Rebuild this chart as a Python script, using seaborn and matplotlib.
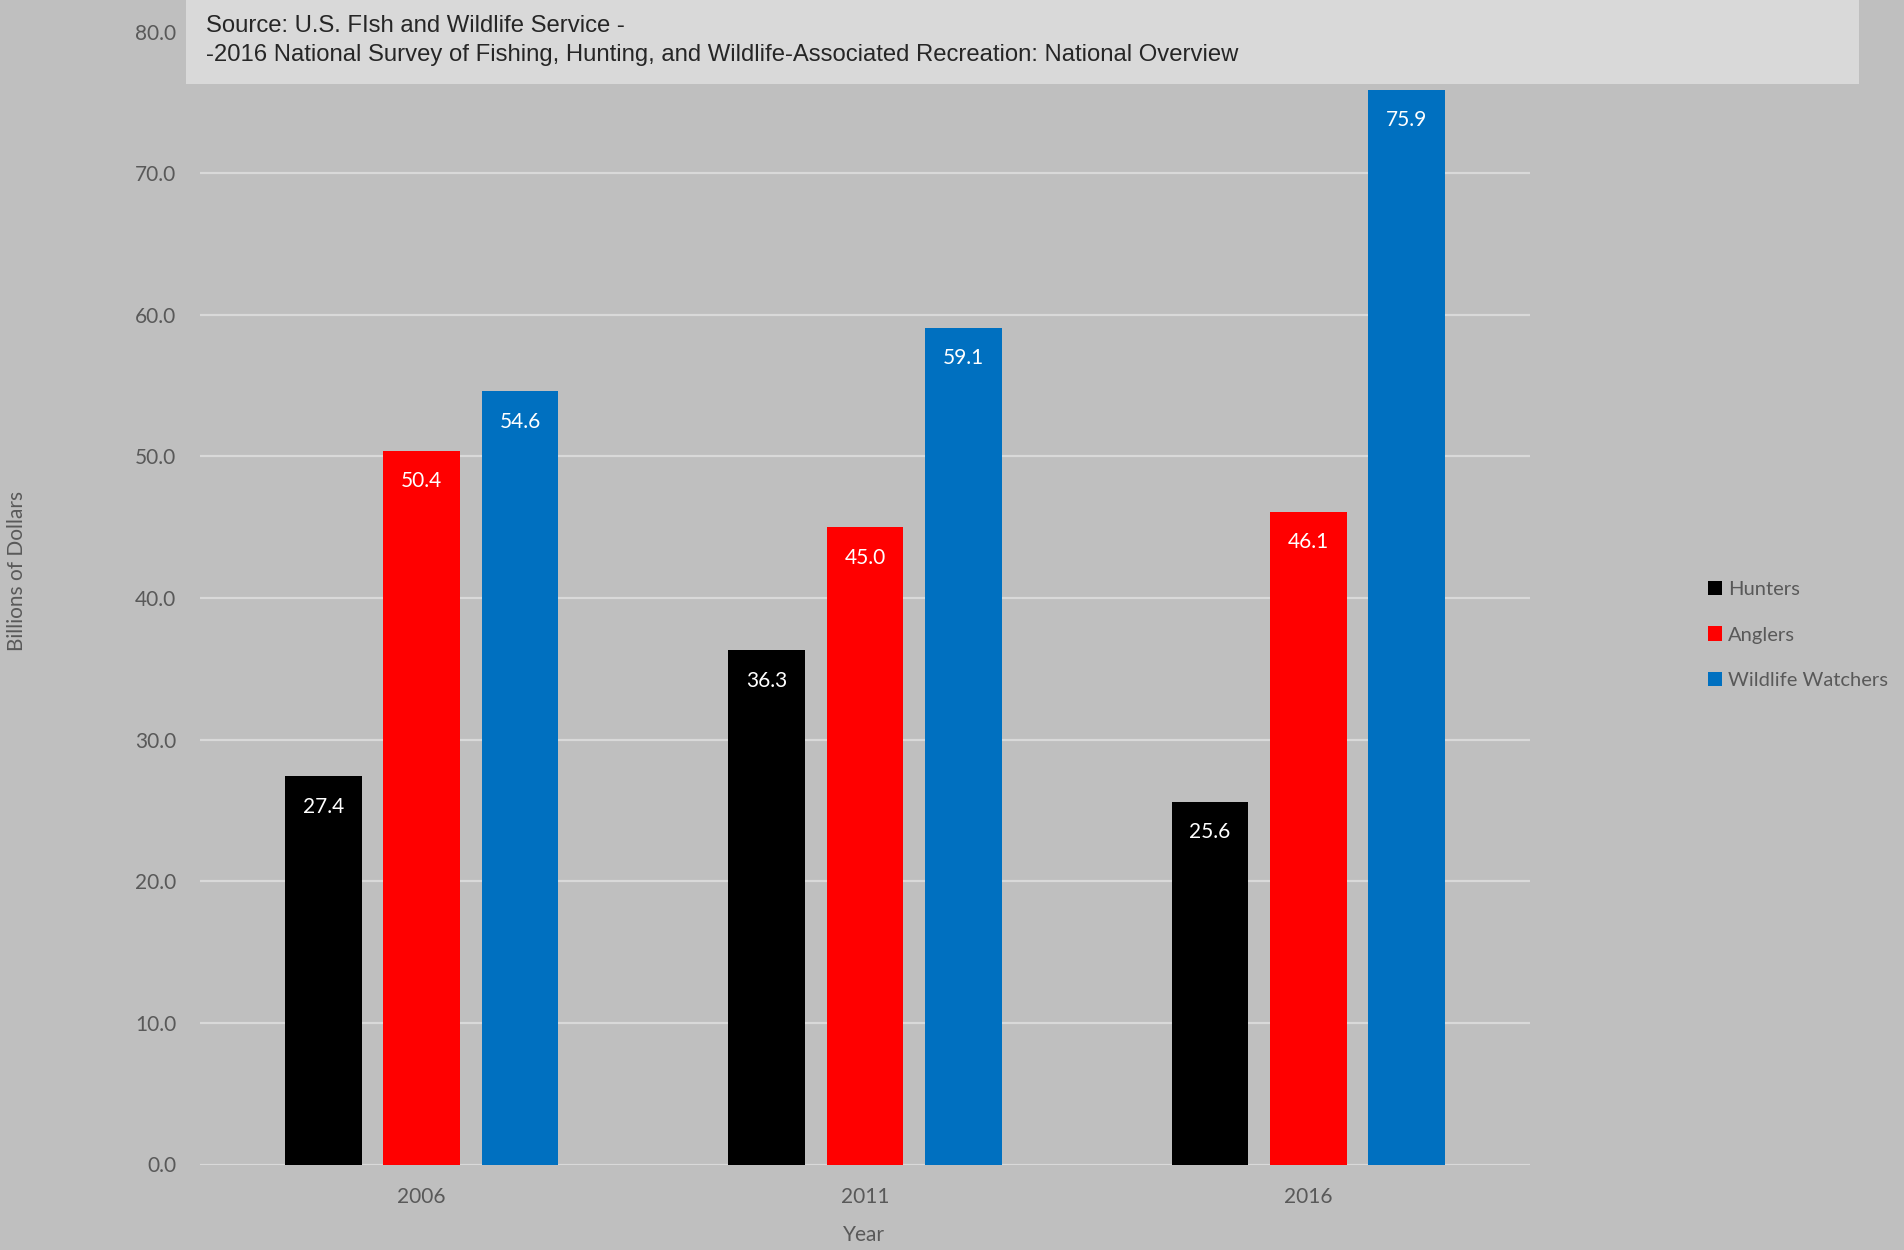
import matplotlib
matplotlib.use("Agg")
import matplotlib.pyplot as plt
from matplotlib.patches import Rectangle
import seaborn as sns
import pandas as pd

years = ["2006", "2011", "2016"]
groups = ["Hunters", "Anglers", "Wildlife Watchers"]
hunters = [27.4, 36.3, 25.6]
anglers = [50.4, 45.0, 46.1]
watchers = [54.6, 59.1, 75.9]
colors = ["#000000", "#FF0000", "#0070C0"]

rows = []
for g, vals in zip(groups, [hunters, anglers, watchers]):
    for y, v in zip(years, vals):
        rows.append({"Year": y, "Group": g, "Value": v})
df = pd.DataFrame(rows)

sns.set_style("white")
plt.rcParams['font.family'] = ['Lato', 'DejaVu Sans']

bg = "#bfbfbf"
fig = plt.figure(figsize=(19.04, 12.5), dpi=100, facecolor=bg)
ax = fig.add_axes([0.105, 0.0684, 0.6986, 0.9063])
ax.set_facecolor(bg)

sns.barplot(data=df, x="Year", y="Value", hue="Group", hue_order=groups,
            palette=colors, width=0.666, gap=0.22, saturation=1,
            linewidth=0, edgecolor="none", ax=ax, legend=True)

ax.set_ylim(0, 80)
ax.set_xlim(-0.5, 2.5)
ax.set_yticks(range(0, 81, 10))
ax.set_yticklabels([f"{t:.1f}" for t in range(0, 81, 10)])
ax.yaxis.grid(True, color="#d9d9d9", linewidth=1.6)
ax.set_axisbelow(True)
for s in ax.spines.values():
    s.set_visible(False)
ax.tick_params(axis="y", length=0, pad=17, labelsize=15, labelcolor="#595959")
ax.tick_params(axis="x", length=0, pad=16, labelsize=15, labelcolor="#595959")
ax.set_xlabel("")
ax.set_ylabel("")

for cont, vals in zip(ax.containers, [hunters, anglers, watchers]):
    ax.bar_label(cont, labels=[f"{v:.1f}" for v in vals], padding=-29,
                 color="white", fontsize=15)

handles, labels = ax.get_legend_handles_labels()
ax.legend(handles, labels, loc="center left", bbox_to_anchor=(0.8875, 0.492),
          bbox_transform=fig.transFigure, frameon=False, fontsize=14.5,
          labelcolor="#595959", handlelength=0.7, handleheight=0.7,
          handletextpad=0.3, labelspacing=1.4)

fig.text(17 / 1904, 0.543, "Billions of Dollars", rotation=90, ha="center",
         va="center", fontsize=15, color="#595959")
fig.text(0.454, 0.012, "Year", ha="center", va="center", fontsize=15,
         color="#595959")

fig.patches.append(Rectangle((0.0977, 0.9328), 0.8787, 0.0672,
                             transform=fig.transFigure, facecolor="#d9d9d9",
                             edgecolor="none", zorder=5))
fig.text(0.108, 0.979, "Source: U.S. FIsh and Wildlife Service -",
         family=["Liberation Sans", "DejaVu Sans"], fontsize=17.2, va="center",
         zorder=6)
fig.text(0.108, 0.956,
         "-2016 National Survey of Fishing, Hunting, and Wildlife-Associated Recreation: National Overview",
         family=["Liberation Sans", "DejaVu Sans"], fontsize=17.2, va="center",
         zorder=6)

fig.savefig("out.png", dpi=100, facecolor=bg)
